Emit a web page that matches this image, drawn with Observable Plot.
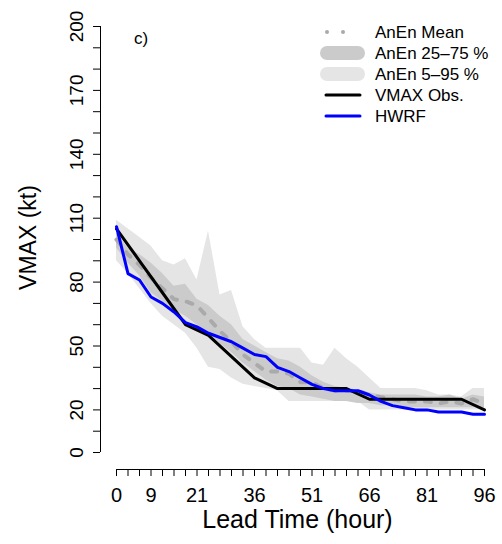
<!DOCTYPE html>
<html>
<head>
<meta charset="utf-8">
<script src="https://cdn.jsdelivr.net/npm/d3@7"></script>
<script src="https://cdn.jsdelivr.net/npm/@observablehq/plot@0.6"></script>
<style>
  body { margin: 0; background: #fff; }
  #wrap { position: relative; width: 502px; height: 544px; font-family: "Liberation Sans", Arial, Helvetica, sans-serif; }
  #legend { position: absolute; left: 0; top: 0; }
</style>
</head>
<body>
<div id="wrap"></div>
<script>
// Lead times (hours) for the ensemble / HWRF forecasts
const hours = [0,3,6,9,12,15,18,21,24,27,30,33,36,39,42,45,48,51,54,57,60,63,66,69,72,75,78,81,84,87,90,93,96];
// Observation times (hours)
const obsHours = [0,6,12,18,24,30,36,42,48,54,60,66,72,78,84,90,96];

// AnEn percentiles and mean (kt)
const anenP95  = [109,105,101,97,90,88,91,81,104,74,76,59,53,49,49,49,49,42,41,49,44,40,35,30,30,30,30,29,27,27,26,30,30];
const anenP75  = [103,96,93,89,84,78,79,72,69,64,60,53,50,47,44,43,40,36,33,31,30,29,28,27,27,27,27,26,26,27,25,27,26];
const anenMean = [100,93,88,82,77,72,71,69,63,57,52,46,42,38,38,37,33,33,30,29,29,29,27,26,25,24,24,24,23,24,23,25,23];
const anenP25  = [96,89,83,75,71,67,64,60,56,51,47,42,38,34,31,30,27,26,25,24,24,23,23,22,22,21,21,21,21,21,21,21,21];
const anenP5   = [90,84,77,70,64,60,56,49,40,39,35,32,31,30,29,24,24,24,24,24,24,24,20,20,20,20,20,20,20,20,20,20,20];

// HWRF forecast (kt)
const hwrf = [106,84,81,73,70,66,61,59,56,54,52,49,46,45,40,38,35,32,30,29,29,29,27,24,22,21,20,20,19,19,19,18,18];
// Observed VMAX (kt)
const vmaxObs = [105,90,75,60,55,45,35,30,30,30,30,25,25,25,25,25,20];

// Axis ticks and labels
const yTicks  = [0,10,20,30,40,50,60,70,80,90,100,110,120,130,140,150,160,170,180,190,200];
const yLabels = [0,20,50,80,110,140,170,200];
const xLabels = [0,9,21,36,51,66,81,96];

const legendItems = ["AnEn Mean", "AnEn 25\u201375 %", "AnEn 5\u201395 %", "VMAX Obs.", "HWRF"];

const ens = hours.map((h, i) => ({h, p5: anenP5[i], p25: anenP25[i], mean: anenMean[i], p75: anenP75[i], p95: anenP95[i], hwrf: hwrf[i]}));
const obs = obsHours.map((h, i) => ({h, v: vmaxObs[i]}));

const FONT = '"Liberation Sans", Arial, Helvetica, sans-serif';

const chart = Plot.plot({
  width: 502,
  height: 544,
  marginLeft: 116,
  marginRight: 18,
  marginTop: 26,
  marginBottom: 92,
  style: {fontFamily: FONT, background: "white", color: "black"},
  x: {domain: [0, 96], label: null},
  y: {domain: [0, 200], label: null},
  marks: [
    Plot.areaY(ens, {x: "h", y1: "p5", y2: "p95", fill: "#e5e5e5"}),
    Plot.areaY(ens, {x: "h", y1: "p25", y2: "p75", fill: "#cbcbcb"}),
    Plot.lineY(ens, {x: "h", y: "mean", stroke: "#aaaaaa", strokeWidth: 4, strokeDasharray: "6,10", strokeLinecap: "round"}),
    Plot.lineY(obs, {x: "h", y: "v", stroke: "black", strokeWidth: 3}),
    Plot.lineY(ens, {x: "h", y: "hwrf", stroke: "#0000ff", strokeWidth: 3}),
    // y axis
    Plot.ruleX([0], {y1: 0, y2: 200, dx: -16, stroke: "black"}),
    Plot.axisY({ticks: yTicks, tickSize: 7, tickFormat: () => "", dx: -16, label: null}),
    Plot.text(yLabels, {y: d => d, text: d => String(d), frameAnchor: "left", textAnchor: "middle", dx: -40, rotate: -90, fontSize: 19, fill: "black"}),
    // x axis
    Plot.ruleY([0], {x1: 0, x2: 96, dy: 17, stroke: "black"}),
    Plot.axisX({ticks: hours, tickSize: 7, tickFormat: () => "", dy: 17, label: null}),
    Plot.axisX({ticks: xLabels, tickSize: 0, tickPadding: 35, fontSize: 20, label: null}),
    // titles
    Plot.text(["Lead Time (hour)"], {text: d => d, frameAnchor: "bottom", dy: 75, dx: -3, fontSize: 25, fill: "black"}),
    Plot.text(["VMAX (kt)"], {text: d => d, frameAnchor: "left", textAnchor: "middle", dx: -87.5, dy: -2, rotate: -90, fontSize: 23, fill: "black"}),
    Plot.text(["c)"], {text: d => d, frameAnchor: "top-left", dx: 17.5, dy: 5, fontSize: 17, textAnchor: "start", fill: "black"})
  ]
});

const wrap = document.getElementById("wrap");
wrap.appendChild(chart);

// Legend (top-right, inside plot area)
const rowY = [32, 53, 74, 95, 116];
const ns = "http://www.w3.org/2000/svg";
const leg = document.createElementNS(ns, "svg");
leg.setAttribute("id", "legend");
leg.setAttribute("width", 502);
leg.setAttribute("height", 140);
leg.style.fontFamily = FONT;
function el(tag, attrs) {
  const e = document.createElementNS(ns, tag);
  for (const k in attrs) e.setAttribute(k, attrs[k]);
  leg.appendChild(e);
  return e;
}
// symbols
el("circle", {cx: 327, cy: rowY[0], r: 2, fill: "#aaaaaa"});
el("circle", {cx: 343, cy: rowY[0], r: 2, fill: "#aaaaaa"});
el("line", {x1: 327, x2: 358, y1: rowY[1], y2: rowY[1], stroke: "#cbcbcb", "stroke-width": 14, "stroke-linecap": "round"});
el("line", {x1: 327, x2: 358, y1: rowY[2], y2: rowY[2], stroke: "#e5e5e5", "stroke-width": 14, "stroke-linecap": "round"});
el("line", {x1: 326, x2: 360, y1: rowY[3], y2: rowY[3], stroke: "black", "stroke-width": 3, "stroke-linecap": "round"});
el("line", {x1: 326, x2: 360, y1: rowY[4], y2: rowY[4], stroke: "#0000ff", "stroke-width": 3, "stroke-linecap": "round"});
legendItems.forEach((t, i) => {
  const tx = el("text", {x: 375, y: rowY[i] + 6, "font-size": 17, fill: "black"});
  tx.textContent = t;
});
wrap.appendChild(leg);
</script>
</body>
</html>
